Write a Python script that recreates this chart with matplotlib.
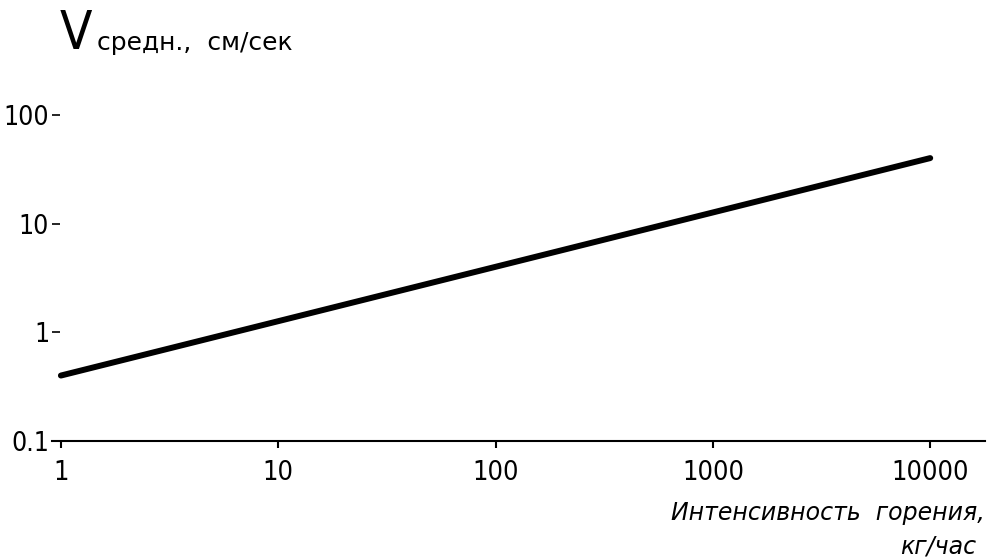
# burning rate vs intensity, log-log
import matplotlib
matplotlib.use('Agg')
import matplotlib.pyplot as plt
from matplotlib.ticker import FixedLocator, FixedFormatter, NullLocator

# data
intensity = [1, 10000]          # кг/час
v_mean = [0.4, 40]              # см/сек
xticks = [1, 10, 100, 1000, 10000]
xtick_labels = ['1', '10', '100', '1000', '10000']
yticks = [0.1, 1, 10, 100]
ytick_labels = ['0.1', '1', '10', '100']

# condensed face for digits, closer to the stencil font of the drawing
plt.rcParams['font.family'] = ['DejaVu Sans']
plt.rcParams['font.stretch'] = 'condensed'

fig = plt.figure(figsize=(9.92, 5.6), dpi=100)
ax = fig.add_axes([52 / 992, 119 / 560, (985 - 52) / 992, (441 - 60.5) / 560])

ax.plot(intensity, v_mean, color='black', lw=4.3, solid_capstyle='round')

ax.set_xscale('log')
ax.set_yscale('log')
ax.set_xlim(0.91, 17870)
ax.set_ylim(0.1, 316)

for s in ['top', 'right', 'left']:
    ax.spines[s].set_visible(False)
ax.spines['bottom'].set_linewidth(1.5)

ax.xaxis.set_major_locator(FixedLocator(xticks))
ax.xaxis.set_major_formatter(FixedFormatter(xtick_labels))
ax.xaxis.set_minor_locator(NullLocator())
ax.yaxis.set_major_locator(FixedLocator(yticks))
ax.yaxis.set_major_formatter(FixedFormatter(ytick_labels))
ax.yaxis.set_minor_locator(NullLocator())

ax.tick_params(axis='x', direction='out', length=5, width=1.5, pad=9,
               labelsize=19.5)
ax.tick_params(axis='y', direction='in', length=6, width=1.2, pad=2,
               labelsize=19)
for lab in ax.get_xticklabels() + ax.get_yticklabels():
    lab.set_fontstretch('condensed')

# axis titles
fig.text(76 / 992, 1 - 49 / 560, 'V', fontsize=38, fontstretch='condensed',
         fontweight='light', ha='center', va='baseline')
fig.text(97 / 992, 1 - 50 / 560, 'средн.,  см/сек', fontsize=18,
         fontstretch='normal', ha='left', va='baseline')
fig.text(985 / 992, 1 - 520 / 560, 'Интенсивность  горения,', fontsize=17,
         fontstretch='normal', style='italic', ha='right', va='baseline')
fig.text(976 / 992, 1 - 554 / 560, 'кг/час', fontsize=17,
         fontstretch='normal', style='italic', ha='right', va='baseline')

fig.savefig('out.png', dpi=100)
